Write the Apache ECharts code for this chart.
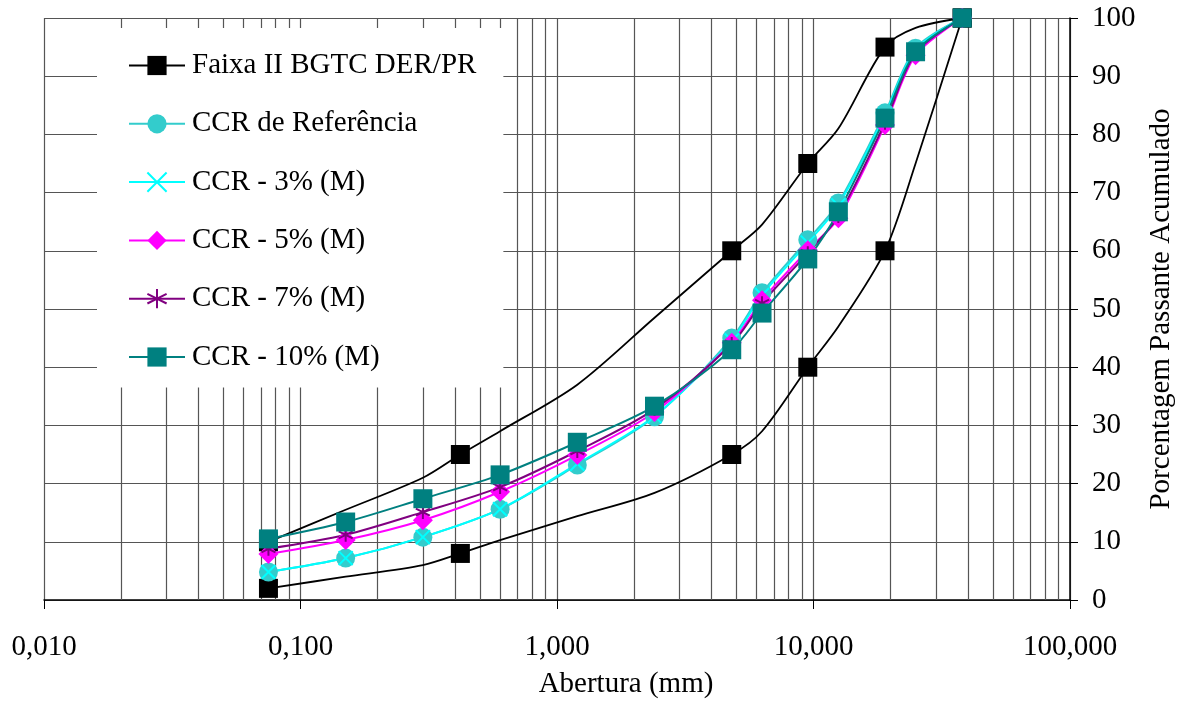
<!DOCTYPE html>
<html>
<head>
<meta charset="utf-8">
<script src="https://cdn.jsdelivr.net/npm/echarts@6/dist/echarts.min.js"></script>
<style>
  html, body { margin: 0; padding: 0; background: #fff; }
  #chart { width: 1177px; height: 702px; }
</style>
</head>
<body>
<div id="chart"></div>
<script>
// peneiras (mm)
const sievesCCR = [0.075, 0.15, 0.3, 0.6, 1.2, 2.4, 4.8, 6.3, 9.5, 12.5, 19, 25, 38];
const sievesBand = [0.075, 0.15, 0.3, 0.42, 0.6, 1.2, 2.4, 4.8, 6.3, 9.5, 12.5, 19, 25, 38];
// peneiras com marcador na faixa
const bandMarked = [0.075, 0.42, 4.8, 9.5, 19, 38];

// Faixa II BGTC DER/PR - limites superior e inferior
const bandUpper = [10, 15.5, 21, 25, 29, 37, 48.5, 60, 64.5, 75, 81, 95, 98.3, 100];
const bandLower = [2, 4, 6, 8, 10.3, 14.4, 18.4, 25, 29, 40, 47, 60, 75, 100];

// % passante acumulado
const ccrRef = [4.8, 7.2, 10.8, 15.6, 23.2, 31.5, 45, 52.8, 61.9, 68.2, 83.7, 94.8, 100];
const ccr3 = [4.8, 7.2, 10.8, 15.6, 23.4, 31.6, 44.6, 52.4, 61.4, 67.8, 83.3, 94.5, 100];
const ccr5 = [7.9, 10.3, 13.7, 18.6, 24.9, 32.3, 44.2, 51.5, 60.1, 65.6, 81.6, 93.6, 100];
const ccr7 = [8.8, 11.2, 15.1, 19.4, 25.6, 32.8, 44, 51, 59.6, 66, 82, 94, 100];
const ccr10 = [10.5, 13.4, 17.4, 21.5, 27.1, 33.3, 43, 49.3, 58.6, 66.7, 82.8, 94.2, 100];

const xTicks = [0.01, 0.1, 1, 10, 100];

const font = 'Liberation Serif, Times New Roman, serif';
const gridColor = '#555';
const chart = echarts.init(document.getElementById('chart'));

function pairs(xs, ys) {
  return xs.map((x, i) => [x, ys[i]]);
}
function bandData(ys) {
  return sievesBand.map((x, i) => ({
    value: [x, ys[i]],
    symbolSize: bandMarked.indexOf(x) >= 0 ? 19 : 0
  }));
}

// linhas secundarias da escala log
const minorLines = [];
for (let d = 0; d < 4; d++) {
  for (let k = 2; k <= 9; k++) {
    minorLines.push({ xAxis: xTicks[d] * k });
  }
}

function ccrSeries(name, data, color, symbol, size, extra) {
  return Object.assign({
    name: name,
    type: 'line',
    smooth: 0.3,
    data: pairs(sievesCCR, data),
    symbol: symbol,
    symbolSize: size,
    lineStyle: { color: color, width: 2 },
    itemStyle: { color: color },
    z: 3
  }, extra || {});
}

const starPath = 'path://M5,0L5,10M0.7,2.5L9.3,7.5M0.7,7.5L9.3,2.5';
const crossPath = 'path://M0,0L10,10M10,0L0,10';

let option = {
  animation: false,
  backgroundColor: '#fff',
  grid: { left: 44, right: 107, top: 18, bottom: 102, outerBoundsMode: 'none' },
  legend: {
    orient: 'vertical',
    left: 97,
    top: 28,
    padding: [23, 27, 16, 31],
    backgroundColor: '#fff',
    itemWidth: 56,
    itemHeight: 24,
    itemGap: 29.3,
    textStyle: { fontFamily: font, fontSize: 29, lineHeight: 24, color: '#000', padding: [0, 0, 0, 2] },
    data: ['Faixa II BGTC DER/PR', 'CCR de Referência', 'CCR - 3% (M)', 'CCR - 5% (M)', 'CCR - 7% (M)', 'CCR - 10% (M)']
  },
  xAxis: {
    type: 'log',
    logBase: 10,
    min: 0.01,
    max: 100,
    name: 'Abertura (mm)',
    nameLocation: 'middle',
    nameGap: 70,
    nameTextStyle: { fontFamily: font, fontSize: 29, color: '#000', padding: [0, 0, 0, 138] },
    axisLine: { lineStyle: { color: '#000', width: 1.5 } },
    axisTick: { show: true, length: 9, lineStyle: { color: '#000' } },
    axisLabel: {
      fontFamily: font, fontSize: 29, color: '#000', margin: 33,
      formatter: v => v.toFixed(3).replace('.', ',')
    },
    splitLine: { show: true, lineStyle: { color: gridColor, width: 1.2 } }
  },
  yAxis: {
    type: 'value',
    position: 'right',
    min: 0,
    max: 100,
    interval: 10,
    name: 'Porcentagem Passante Acumulado',
    nameLocation: 'middle',
    nameRotate: 90,
    nameGap: 69,
    nameTextStyle: { fontFamily: font, fontSize: 29, color: '#000' },
    axisLine: { show: true, lineStyle: { color: '#000', width: 1.5 } },
    axisTick: { show: true, length: 8, lineStyle: { color: '#000' } },
    axisLabel: { fontFamily: font, fontSize: 29, color: '#000', margin: 22 },
    splitLine: { show: true, lineStyle: { color: gridColor, width: 1.2 } }
  },
  series: [
    {
      name: 'Faixa II BGTC DER/PR',
      type: 'line',
      smooth: 0.3,
      data: bandData(bandUpper),
      symbol: 'rect',
      lineStyle: { color: '#000', width: 1.8 },
      itemStyle: { color: '#000' },
      markLine: {
        silent: true,
        symbol: 'none',
        label: { show: false },
        lineStyle: { color: gridColor, width: 1.2, type: 'solid' },
        data: minorLines,
        z: 1
      },
      z: 2
    },
    {
      name: 'Faixa II BGTC DER/PR',
      type: 'line',
      smooth: 0.3,
      data: bandData(bandLower),
      symbol: 'rect',
      lineStyle: { color: '#000', width: 1.8 },
      itemStyle: { color: '#000' },
      z: 2
    },
    ccrSeries('CCR de Referência', ccrRef, '#33CCCC', 'circle', 19),
    ccrSeries('CCR - 3% (M)', ccr3, '#00FFFF', crossPath, 14, {
      itemStyle: { color: '#00FFFF', borderColor: '#00FFFF', borderWidth: 2 }
    }),
    ccrSeries('CCR - 5% (M)', ccr5, '#FF00FF', 'diamond', 20),
    ccrSeries('CCR - 7% (M)', ccr7, '#800080', starPath, 14, {
      itemStyle: { color: '#800080', borderColor: '#800080', borderWidth: 2 }
    }),
    ccrSeries('CCR - 10% (M)', ccr10, '#008080', 'rect', 19)
  ]
};

chart.setOption(option);
</script>
</body>
</html>
